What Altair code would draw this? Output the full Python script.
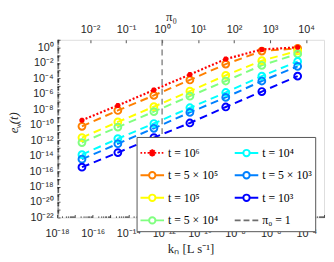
import altair as alt
import pandas as pd

# ---------------- data ----------------
k_n = [2.5e-17, 2.6e-15, 2.75e-13, 2.9e-11, 3.0e-9, 3.2e-7, 3.3e-5]

series_names = ["t = 10⁶", "t = 5 × 10⁵", "t = 10⁵", "t = 5 × 10⁴",
                "t = 10⁴", "t = 5 × 10³", "t = 10³"]
series_colors = ["#FF0000", "#FF8000", "#FFFF00", "#80FF80",
                 "#00FFFF", "#0080FF", "#0000FF"]

e_t1e6 = [3.8e-10, 3.1e-8, 3.2e-6, 3.2e-4, 3.2e-2, 0.56, 1.07]
e_t5e5 = [6.3e-11, 7.1e-9, 6.3e-7, 6.3e-5, 7.1e-3, 0.35, 0.76]
e_t1e5 = [2.2e-12, 2.3e-10, 2.2e-8, 2.2e-6, 2.5e-4, 2.0e-2, 0.36]
e_t5e4 = [5.0e-13, 5.0e-11, 5.0e-9, 5.0e-7, 4.6e-5, 5.0e-3, 0.15]
e_t1e4 = [1.35e-14, 1.6e-12, 1.45e-10, 1.6e-8, 1.5e-6, 2.0e-4, 1.6e-2]
e_t5e3 = [3.5e-15, 3.5e-13, 3.5e-11, 4.0e-9, 3.5e-7, 4.6e-5, 3.7e-3]
e_t1e3 = [3.2e-16, 2.5e-14, 2.2e-12, 1.7e-10, 2.0e-8, 2.0e-6, 2.0e-4]
all_series = [e_t1e6, e_t5e5, e_t1e5, e_t5e4, e_t1e4, e_t5e3, e_t1e3]

pi_label = "π₀ = 1"
pi_line = [1.0]

x_label_exps = list(range(-18, -3, 2))
y_label_exps = list(range(-22, 1, 2))
pi_label_exps = list(range(-2, 5))

x_domain = [1e-18, 1e-3]
y_domain = [1e-22, 1e1]
pi_domain = [10 ** -2.918, 10 ** 4.5]

# ---------------- tables ----------------
rows = []
for name, vals in zip(series_names, all_series):
    for k, e in zip(k_n, vals):
        rows.append({"series": name, "k": k, "e": e})
df = pd.DataFrame(rows)
df_red = df[df.series == series_names[0]]
df_other = df[df.series != series_names[0]]
other_names = series_names[1:]
other_colors = series_colors[1:]

W, H = 272, 181
AX = "#262626"

SUP = str.maketrans("-0123456789", "⁻⁰¹²³⁴⁵⁶⁷⁸⁹")


def label_expr(exps):
    parts = [f"round(log(datum.value)/LN10) == {p} ? '10{str(p).translate(SUP)}'" for p in exps]
    return " : ".join(parts) + " : ''"


MAJOR = "abs(log(datum.value)/LN10 - round(log(datum.value)/LN10)) < 0.01"
tick_cond = {"condition": {"test": MAJOR, "value": 3}, "value": 1.6}

x_ticks = [m * 10.0 ** p for p in range(-18, -3) for m in range(1, 10)] + [1e-3]
y_ticks = [m * 10.0 ** p for p in range(-22, 1) for m in range(1, 10)] + [10.0]

xs = alt.Scale(type="log", domain=x_domain)
ys = alt.Scale(type="log", domain=y_domain)
ps = alt.Scale(type="log", domain=pi_domain)

lab = dict(labelFont="Liberation Sans", labelFontSize=11, labelColor=AX,
           domain=False, grid=False, tickSize=0, labelFlush=False, labelOverlap=False)

x_lab_axis = alt.Axis(orient="bottom", values=[10.0 ** p for p in x_label_exps],
                      labelExpr=label_expr(x_label_exps), labelPadding=10,
                      title="kₙ [L s⁻¹]", titleFont="Liberation Serif", titleFontSize=13,
                      titleFontWeight="normal", titleColor=AX, titlePadding=5, **lab)
y_lab_axis = alt.Axis(orient="left", values=[10.0 ** p for p in y_label_exps],
                      labelExpr=label_expr(y_label_exps), labelPadding=4,
                      title="e   (t)", titleFont="Liberation Serif", titleFontSize=13,
                      titleFontStyle="italic", titleFontWeight="normal", titleColor=AX,
                      titleX=-44, titleY=84, titleAlign="center", titleBaseline="middle",
                      **lab)
x_tick_axis = alt.Axis(orient="top", offset=-H, values=x_ticks, labels=False, domain=False,
                       grid=False, tickSize=tick_cond, tickColor=AX, tickWidth=0.8, title=None)
y_tick_axis = alt.Axis(orient="right", offset=-W, values=y_ticks, labels=False, domain=False,
                       grid=False, tickSize=tick_cond, tickColor=AX, tickWidth=0.8,
                       title="w", titleFont="Liberation Serif", titleFontSize=9,
                       titleFontStyle="italic", titleFontWeight="normal", titleColor=AX,
                       titleAngle=-90, titleX=-40, titleY=87, titleAlign="center",
                       titleBaseline="middle")

pi_lab_axis = alt.Axis(orient="top", values=[10.0 ** p for p in pi_label_exps],
                       labelExpr=label_expr(pi_label_exps), labelPadding=5,
                       title="π₀", titleFont="Liberation Serif", titleFontSize=13,
                       titleFontWeight="normal", titleColor=AX, titlePadding=1,
                       titleX=116, titleAlign="center", **lab)
pi_tick_axis = alt.Axis(orient="bottom", offset=-H, values=[10.0 ** p for p in pi_label_exps],
                        labels=False, domain=False, grid=False, tickSize=3, tickColor=AX,
                        tickWidth=0.8, title=None)

# ---------------- pi0 layers (top axis) ----------------
pi_df = pd.DataFrame({"pi": pi_line})
pi_rule = alt.Chart(pi_df).mark_rule(color="#6e6e6e", strokeDash=[6, 4], strokeWidth=1.2).encode(
    x=alt.X("pi:Q", scale=ps, axis=pi_lab_axis))
pi_ticks = alt.Chart(pi_df).mark_point(opacity=0).encode(
    x=alt.X("pi:Q", scale=ps, axis=pi_tick_axis))
pi_group = alt.layer(pi_rule, pi_ticks).resolve_axis(x="independent")

# ---------------- data layers ----------------
col_other = alt.Color("series:N", scale=alt.Scale(domain=other_names, range=other_colors), legend=None)

lines_other = alt.Chart(df_other).mark_line(strokeDash=[8, 5], strokeWidth=2).encode(
    x=alt.X("k:Q", scale=xs, axis=x_lab_axis),
    y=alt.Y("e:Q", scale=ys, axis=y_lab_axis),
    color=col_other)
points_other = alt.Chart(df_other).mark_point(filled=False, shape="circle", size=48, strokeWidth=2,
                                              opacity=1).encode(
    x=alt.X("k:Q", scale=xs, axis=x_tick_axis),
    y=alt.Y("e:Q", scale=ys, axis=y_tick_axis),
    color=col_other)

ASTER = "M-0.8,0H0.8M0,-0.8V0.8M-0.57,-0.57L0.57,0.57M-0.57,0.57L0.57,-0.57"
line_red = alt.Chart(df_red).mark_line(color=series_colors[0], strokeDash=[2, 2], strokeWidth=2.2).encode(
    x=alt.X("k:Q", scale=xs, axis=None),
    y=alt.Y("e:Q", scale=ys, axis=None))
points_red = alt.Chart(df_red).mark_point(color=series_colors[0], shape=ASTER, size=42, filled=False,
                                          strokeWidth=2, opacity=1).encode(
    x=alt.X("k:Q", scale=xs, axis=None),
    y=alt.Y("e:Q", scale=ys, axis=None))

# ---------------- legend (filled column by column, like the original) ----------------
legend_order = series_names + [pi_label]
legend_colors = series_colors + ["#6e6e6e"]
CIRC = ("M-1,0H-0.27M0.27,0H1M-0.27,0A0.27,0.27,0,1,1,0.27,0A0.27,0.27,0,1,1,-0.27,0")
DOTS = "".join(f"M{-1 + 0.3 * i:.2f},0h0.14" for i in range(7)) + \
       "M-0.3,0H0.3M0,-0.3V0.3M-0.21,-0.21L0.21,0.21M-0.21,0.21L0.21,-0.21"
DASH = "M-1,0H-0.5M-0.25,0H0.25M0.5,0H1"
legend_paths = [DOTS, CIRC, CIRC, CIRC, CIRC, CIRC, CIRC, DASH]

leg = alt.Legend(orient="none", legendX=81, legendY=99, columns=2, title=None,
                 labelFont="Liberation Serif", labelFontSize=12, labelColor="#000000",
                 symbolSize=576, symbolStrokeWidth=2, fillColor="white", strokeColor="#555555",
                 padding=3, rowPadding=2, columnPadding=12, labelOffset=3, symbolOpacity=1)
legend_df = pd.DataFrame({"entry": legend_order})
legend_layer = alt.Chart(legend_df).transform_filter("false").mark_point(filled=False).encode(
    color=alt.Color("entry:N", scale=alt.Scale(domain=legend_order, range=legend_colors), legend=leg),
    shape=alt.Shape("entry:N", scale=alt.Scale(domain=legend_order, range=legend_paths), legend=leg))

k_group = alt.layer(lines_other, points_other, line_red, points_red, legend_layer).resolve_axis(
    x="independent", y="independent").resolve_scale(color="independent", shape="independent")

chart = alt.layer(pi_group, k_group).resolve_scale(x="independent").properties(
    width=W, height=H,
    padding={"left": 50, "top": 30, "right": 2, "bottom": 43},
    autosize=alt.AutoSizeParams(type="none"),
).configure_view(stroke=AX, strokeWidth=0.8).configure(background="white")

chart.save("out.html", embed_options={"renderer": "svg", "actions": False})
